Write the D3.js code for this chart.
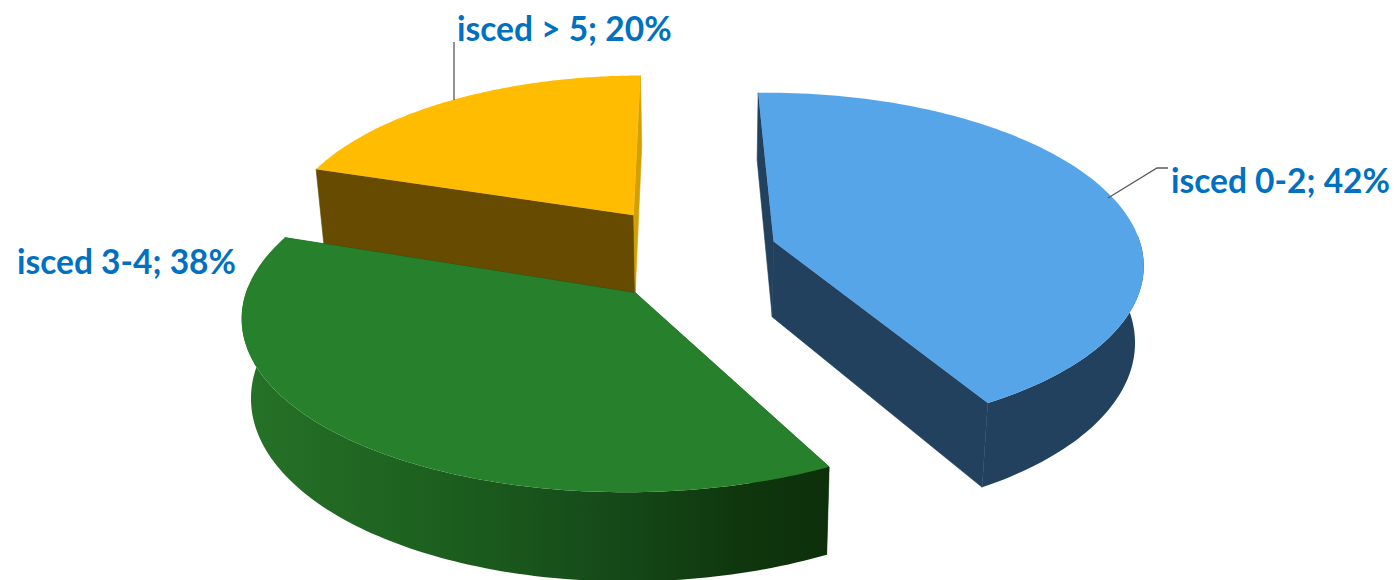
<!DOCTYPE html>
<html>
<head>
<meta charset="utf-8">
<script src="https://cdn.jsdelivr.net/npm/d3@7"></script>
<style>
  html, body { margin: 0; padding: 0; background: #fff; }
  text { font-family: Lato, sans-serif; font-weight: 700; }
</style>
</head>
<body>
<div id="chart"></div>
<script>
var categories = ['isced 0-2', 'isced 3-4', 'isced > 5'];
var shares = [42, 38, 20];

var topColors = ['#56a5e8', '#27802b', '#ffbc00'];
var wallColors = ['#22415f', '#1a5a1c', '#664b00'];
var endWallColors = ['#22415f', '#1a5a1c', '#d2a000'];

// how far each slice is pulled out, and small per slice corrections
var offsetU = [0.179, -0.185, -0.201];
var offsetV = [-0.07, 0.235, -0.235];
var scaleU = [0.985, 1.01, 0.955];
var scaleV = [1.03, 1, 1];
var turn = [-0.005, 0.042, 0.017];
var depthScale = [1, 1, 1.06];

var svgWidth = 1398, svgHeight = 580;

// perspective settings for the tilted pie
var view = { cx: 707, cy: 253, fx: 375, fy: 165, depth: 76, k: 0.12, shrink: 0.98 };

var svg = d3.select('#chart').append('svg')
    .attr('width', svgWidth)
    .attr('height', svgHeight)
    .style('display', 'block');

function project(u, v, z) {
    var w = 1 - view.k * v;
    var sx = z ? view.shrink : 1;
    return [
        view.cx + view.fx * u / w * sx,
        view.cy + (view.fy * v + view.depth * z) / w
    ];
}

var pie = d3.pie().sort(null).value(function(d) { return d; }).startAngle(-0.02).endAngle(2 * Math.PI - 0.02);
var slices = pie(shares);
var line = d3.line();

// painter order: far slices first
var order = [2, 0, 1];

var gradient = svg.append('defs').append('linearGradient')
    .attr('id', 'greenWall')
    .attr('gradientUnits', 'userSpaceOnUse')
    .attr('x1', 243).attr('x2', 832).attr('y1', 0).attr('y2', 0);
[['0%', '#267228'], ['35%', '#1c5e1e'], ['65%', '#154818'], ['85%', '#0f360d'], ['100%', '#0d300b']].forEach(function(s) {
    gradient.append('stop').attr('offset', s[0]).attr('stop-color', s[1]);
});

order.forEach(function(i) {
    var s = slices[i];
    var ax = offsetU[i];
    var ay = offsetV[i];
    var bottom = depthScale[i];

    function rim(a, z) {
        return project(ax + scaleU[i] * Math.sin(a), ay - scaleV[i] * Math.cos(a), z);
    }
    var angles = d3.range(0, 121).map(function(t) {
        return s.startAngle + turn[i] + (s.endAngle - s.startAngle) * t / 120;
    });
    var apexTop = project(ax, ay, 0);
    var apexBottom = project(ax, ay, bottom);
    var topArc = angles.map(function(a) { return rim(a, 0); });
    var bottomArc = angles.map(function(a) { return rim(a, bottom); });

    var g = svg.append('g').attr('class', 'slice');

    // cut faces
    g.append('path')
        .attr('d', line([apexTop, topArc[0], bottomArc[0], apexBottom]) + 'Z')
        .attr('fill', wallColors[i])
        .attr('stroke', wallColors[i])
        .attr('stroke-width', 0.6);
    g.append('path')
        .attr('d', line([apexTop, topArc[120], bottomArc[120], apexBottom]) + 'Z')
        .attr('fill', endWallColors[i])
        .attr('stroke', endWallColors[i])
        .attr('stroke-width', 0.6);

    // outer wall, only the part turned towards the viewer
    var front = angles.filter(function(a) { return Math.cos(a) < 0.05; });
    if (front.length > 1) {
        var wallTop = front.map(function(a) { return rim(a, 0); });
        var wallBottom = front.map(function(a) { return rim(a, bottom); }).reverse();
        g.append('path')
            .attr('d', line(wallTop.concat(wallBottom)) + 'Z')
            .attr('fill', i === 1 ? 'url(#greenWall)' : wallColors[i]);
    }

    // top face
    g.append('path')
        .attr('d', line([apexTop].concat(topArc)) + 'Z')
        .attr('fill', topColors[i]);
});

// leader lines
var leaders = [
    [[1108, 198], [1157, 168], [1168, 168]],
    null,
    [[454, 100], [454, 42]]
];
leaders.forEach(function(l) {
    if (!l) return;
    svg.append('path')
        .attr('d', line(l))
        .attr('fill', 'none')
        .attr('stroke', '#595959')
        .attr('stroke-width', 1.3);
});

// labels
var labelX = [1171, 17, 457];
var labelY = [193, 274, 41];
categories.forEach(function(c, i) {
    svg.append('text')
        .attr('x', labelX[i])
        .attr('y', labelY[i])
        .attr('font-size', 33.5)
        .attr('fill', '#0070c0')
        .text(c + '; ' + shares[i] + '%');
});
</script>
</body>
</html>
